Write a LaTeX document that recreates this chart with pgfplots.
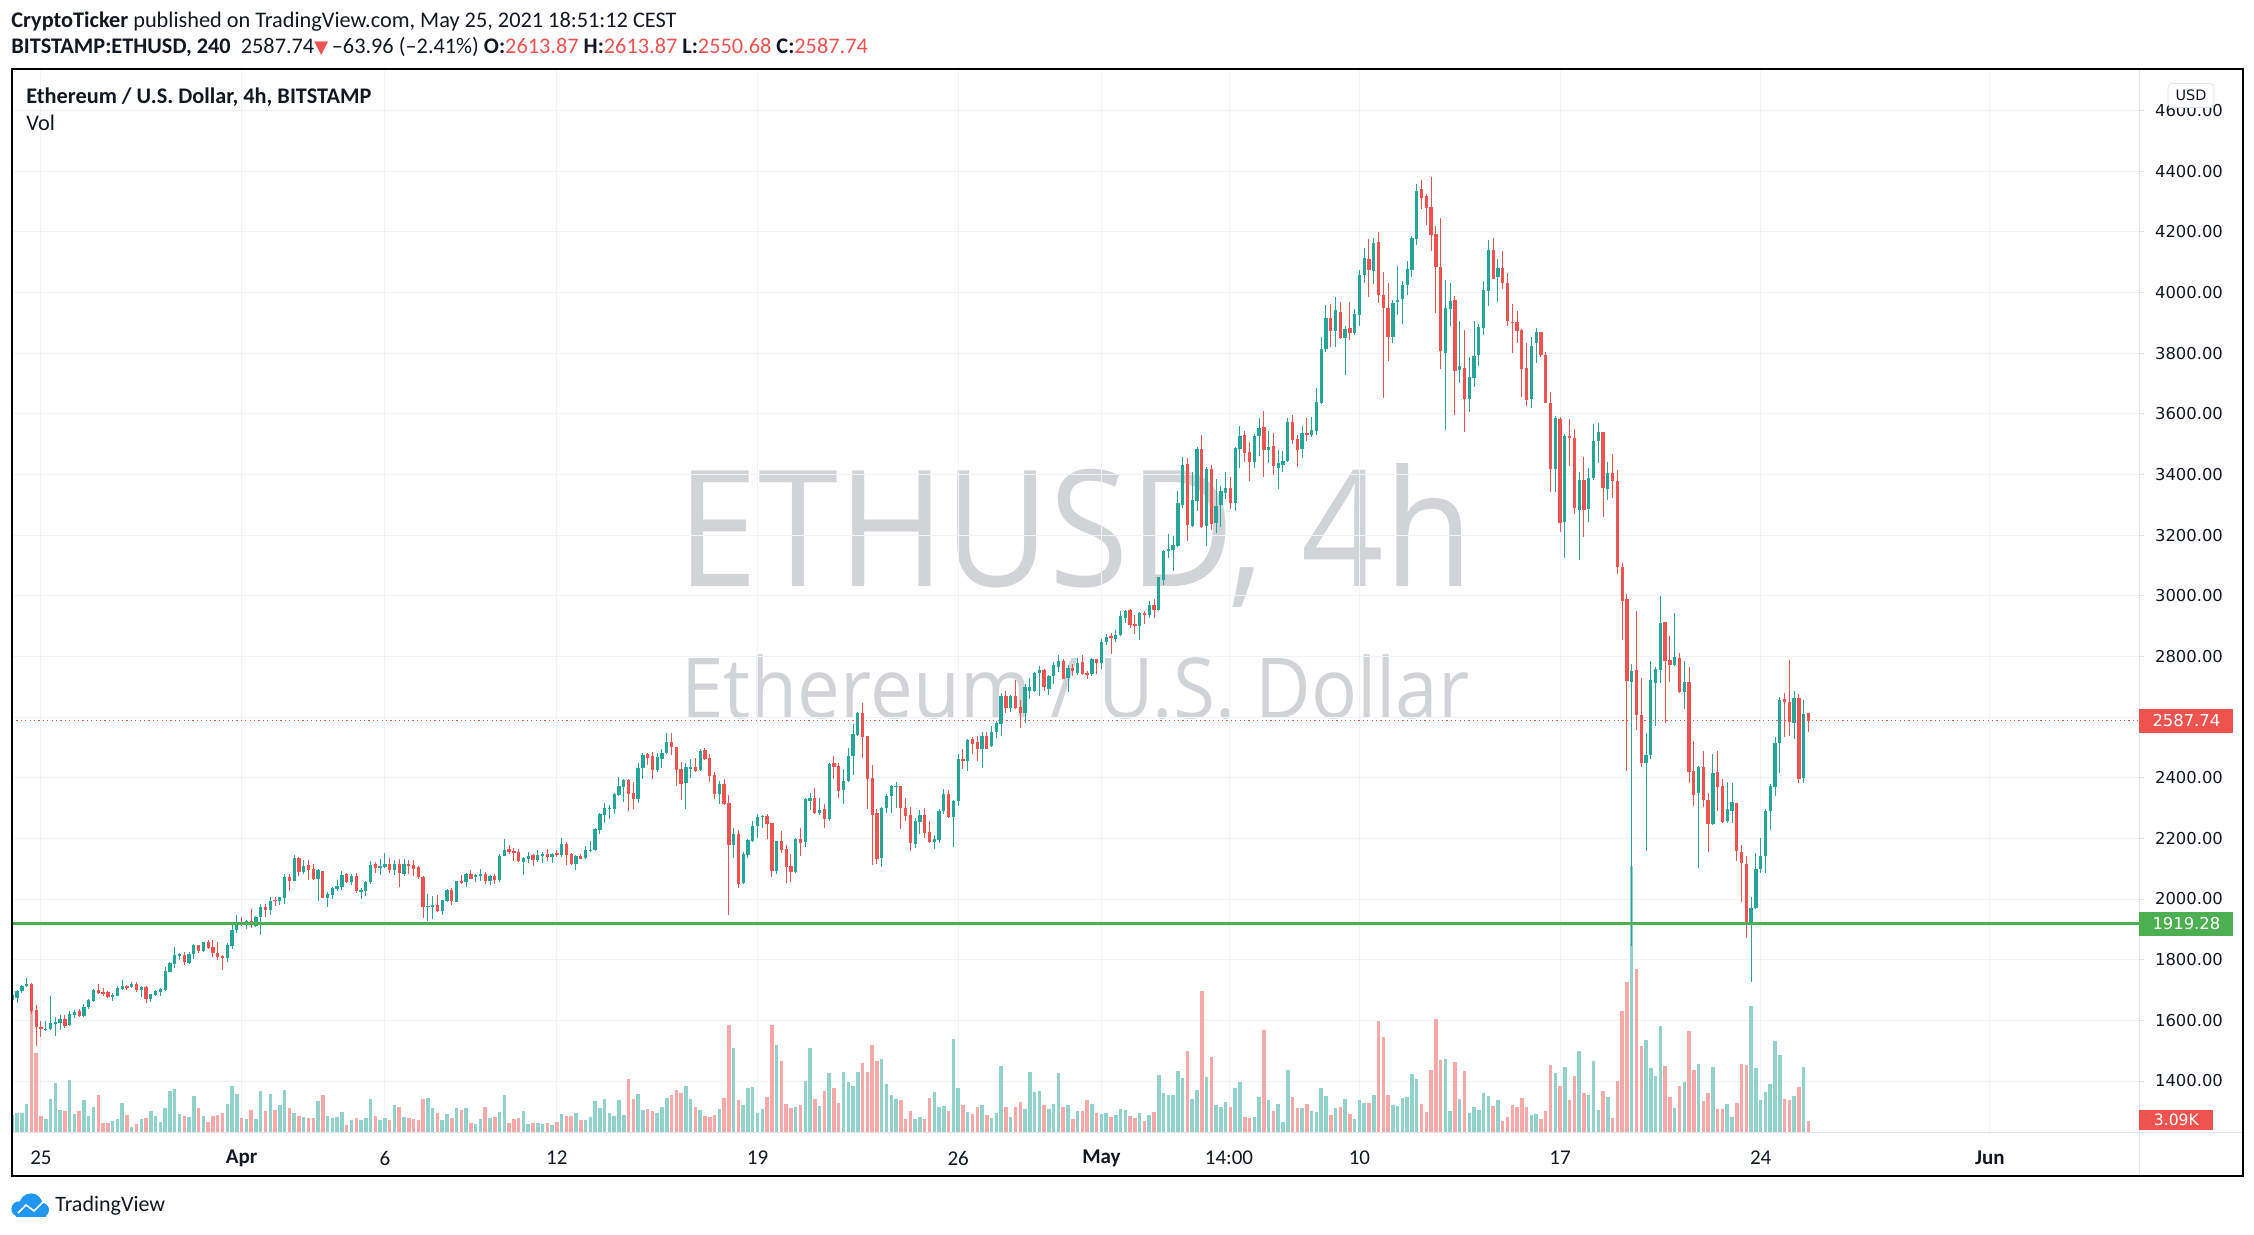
\documentclass[border=0pt]{standalone}
\usepackage{pgfplots}
\pgfplotsset{compat=1.18}
\usepackage{pgfplotstable}
\usepackage{graphicx}
\usepackage{fontspec}
\setmainfont{Carlito}
\newfontfamily\pricefont{DejaVu Sans}
\newfontfamily\wmfont{Open Sans}

\definecolor{up}{HTML}{26A69A}
\definecolor{down}{HTML}{EF5350}
\definecolor{upvol}{HTML}{92D2CC}
\definecolor{downvol}{HTML}{F7A9A7}
\definecolor{gridc}{HTML}{F0F3FA}
\definecolor{txt}{HTML}{131722}
\definecolor{wm}{RGB}{210,211,215}
\definecolor{sep}{HTML}{E0E3EB}
\definecolor{lvl}{HTML}{4CAF50}
\definecolor{tvblue}{HTML}{2196F3}

% 4h candles, i = candle number from Mar 24 00:00; v = volume (bar height units)
\pgfplotstableread{
i o h l c v
0 1666 1688 1646 1683 15
1 1675 1700 1658 1697 17
2 1696 1718 1690 1713 17
3 1713 1740 1710 1719 26
4 1721 1724 1620 1631 120
5 1634 1650 1515 1578 77
6 1578 1598 1545 1573 14
7 1569 1598 1565 1573 11
8 1573 1680 1568 1591 31
9 1589 1611 1550 1595 47
10 1591 1617 1569 1604 20
11 1604 1616 1576 1580 19
12 1585 1631 1582 1621 50
13 1619 1634 1608 1626 16
14 1631 1639 1611 1615 19
15 1613 1653 1611 1644 30
16 1643 1670 1637 1667 14
17 1665 1702 1662 1700 23
18 1700 1720 1688 1690 35
19 1693 1706 1681 1687 7
20 1693 1698 1674 1677 7
21 1677 1691 1665 1685 9
22 1681 1712 1679 1707 11
23 1702 1732 1699 1713 27
24 1713 1717 1700 1707 15
25 1710 1725 1707 1721 3
26 1720 1726 1695 1701 6
27 1701 1712 1677 1710 11
28 1710 1712 1657 1672 12
29 1672 1688 1662 1686 19
30 1685 1699 1680 1697 14
31 1695 1708 1681 1703 8
32 1700 1776 1698 1763 22
33 1761 1792 1759 1790 39
34 1787 1842 1774 1815 41
35 1813 1823 1800 1820 16
36 1815 1824 1784 1792 14
37 1788 1824 1786 1820 13
38 1820 1853 1802 1848 34
39 1848 1850 1823 1829 22
40 1828 1859 1824 1858 14
41 1858 1864 1835 1840 8
42 1842 1864 1810 1822 14
43 1823 1858 1800 1810 15
44 1813 1817 1767 1807 17
45 1807 1854 1793 1848 26
46 1846 1915 1836 1898 44
47 1898 1946 1888 1917 36
48 1924 1942 1912 1915 12
49 1919 1930 1902 1926 11
50 1928 1967 1906 1913 20
51 1910 1945 1908 1941 11
52 1941 1982 1883 1974 39
53 1975 1984 1942 1965 19
54 1964 2008 1948 1993 36
55 1995 2007 1978 1992 20
56 1993 2008 1981 2007 25
57 2003 2081 1985 2072 40
58 2072 2081 2028 2059 22
59 2061 2144 2058 2134 17
60 2134 2137 2077 2089 14
61 2089 2128 2084 2109 13
62 2113 2128 2064 2097 12
63 2099 2117 2062 2067 12
64 2067 2099 1995 2097 29
65 2092 2094 2002 2004 35
66 2004 2023 1974 2018 14
67 2013 2038 2000 2036 12
68 2033 2063 2026 2042 13
69 2040 2092 2031 2079 18
70 2082 2085 2053 2055 5
71 2056 2084 2047 2075 10
72 2076 2086 2020 2026 12
73 2024 2037 2000 2031 10
74 2026 2058 2011 2056 12
75 2056 2125 2051 2112 31
76 2117 2121 2086 2103 14
77 2103 2132 2080 2109 10
78 2106 2152 2101 2117 12
79 2115 2135 2086 2097 10
80 2097 2128 2080 2115 25
81 2114 2131 2040 2086 23
82 2084 2132 2075 2115 13
83 2117 2130 2081 2110 12
84 2112 2129 2075 2098 11
85 2106 2109 2067 2073 10
86 2073 2075 1937 1974 31
87 1975 2017 1929 1976 32
88 1975 2010 1933 1979 22
89 1980 2013 1958 1959 17
90 1960 1998 1948 1996 10
91 1993 2033 1989 2031 16
92 2030 2035 1981 1993 12
93 1991 2060 1990 2059 22
94 2059 2079 2051 2053 20
95 2056 2086 2040 2082 22
96 2082 2096 2066 2067 7
97 2074 2082 2057 2079 6
98 2076 2099 2059 2082 11
99 2082 2088 2051 2059 23
100 2059 2080 2046 2076 12
101 2076 2084 2051 2064 13
102 2064 2147 2056 2142 18
103 2142 2198 2141 2162 35
104 2165 2178 2147 2155 7
105 2158 2169 2125 2152 11
106 2155 2164 2123 2125 12
107 2122 2139 2079 2136 19
108 2132 2155 2119 2142 6
109 2145 2147 2109 2128 7
110 2128 2162 2122 2145 7
111 2143 2155 2119 2150 6
112 2150 2165 2125 2139 7
113 2139 2152 2120 2150 5
114 2152 2160 2139 2145 8
115 2145 2201 2140 2181 16
116 2181 2187 2112 2145 14
117 2148 2151 2113 2115 14
118 2117 2146 2097 2142 17
119 2142 2147 2131 2133 10
120 2135 2175 2132 2162 10
121 2159 2191 2154 2162 13
122 2162 2234 2158 2231 29
123 2228 2284 2215 2280 22
124 2276 2315 2252 2299 31
125 2296 2310 2264 2301 17
126 2297 2348 2280 2346 14
127 2343 2401 2340 2371 30
128 2370 2397 2321 2392 15
129 2392 2397 2291 2346 51
130 2348 2386 2297 2331 31
131 2331 2447 2318 2431 36
132 2431 2480 2396 2475 20
133 2478 2482 2442 2466 21
134 2471 2485 2397 2425 19
135 2425 2482 2420 2467 17
136 2463 2493 2433 2482 23
137 2480 2546 2478 2518 32
138 2518 2546 2475 2500 35
139 2500 2502 2373 2425 40
140 2428 2452 2326 2379 37
141 2384 2447 2298 2434 44
142 2428 2460 2398 2434 31
143 2434 2464 2419 2422 23
144 2425 2495 2422 2488 20
145 2490 2497 2458 2462 14
146 2464 2478 2387 2406 13
147 2408 2419 2329 2346 15
148 2345 2389 2313 2379 21
149 2379 2396 2310 2312 32
150 2315 2342 1947 2178 105
151 2178 2234 2136 2214 82
152 2214 2228 2036 2049 30
153 2052 2156 2048 2148 25
154 2145 2197 2136 2195 42
155 2191 2256 2188 2241 43
156 2241 2280 2201 2269 17
157 2269 2276 2234 2270 21
158 2274 2280 2198 2247 33
159 2249 2252 2074 2092 105
160 2092 2192 2084 2190 85
161 2190 2224 2152 2163 69
162 2164 2178 2054 2107 26
163 2109 2149 2057 2090 22
164 2090 2202 2087 2198 23
165 2198 2234 2143 2185 25
166 2189 2332 2173 2330 49
167 2324 2351 2293 2334 82
168 2334 2366 2280 2284 31
169 2284 2333 2276 2293 24
170 2297 2312 2235 2264 39
171 2264 2449 2258 2445 57
172 2448 2471 2396 2436 42
173 2439 2449 2334 2357 27
174 2359 2428 2313 2390 58
175 2388 2499 2386 2471 48
176 2471 2577 2409 2544 44
177 2541 2616 2538 2613 58
178 2613 2645 2465 2535 67
179 2536 2537 2297 2396 58
180 2399 2441 2112 2277 85
181 2284 2296 2116 2132 69
182 2135 2302 2104 2300 71
183 2300 2345 2284 2340 46
184 2340 2377 2284 2372 35
185 2369 2385 2299 2373 31
186 2372 2373 2230 2300 30
187 2301 2333 2257 2274 11
188 2276 2302 2157 2184 19
189 2180 2267 2168 2257 11
190 2254 2294 2214 2276 13
191 2276 2299 2202 2218 11
192 2220 2257 2184 2188 32
193 2188 2210 2165 2198 38
194 2196 2296 2186 2289 23
195 2289 2362 2281 2345 24
196 2345 2360 2267 2269 19
197 2269 2328 2171 2324 91
198 2324 2477 2306 2461 42
199 2461 2493 2428 2456 25
200 2455 2528 2422 2524 18
201 2528 2533 2477 2511 16
202 2517 2537 2455 2495 23
203 2493 2550 2431 2538 25
204 2538 2550 2493 2495 15
205 2505 2569 2501 2550 12
206 2550 2587 2530 2581 17
207 2577 2679 2538 2670 64
208 2670 2685 2612 2630 23
209 2630 2673 2615 2670 13
210 2670 2722 2628 2630 23
211 2632 2657 2563 2614 28
212 2614 2710 2581 2699 21
213 2685 2729 2661 2700 58
214 2685 2749 2681 2745 38
215 2744 2768 2670 2755 39
216 2755 2758 2687 2700 25
217 2694 2738 2673 2735 21
218 2734 2780 2709 2771 26
219 2766 2805 2749 2785 57
220 2785 2791 2724 2727 23
221 2730 2771 2683 2761 25
222 2761 2776 2734 2751 11
223 2746 2794 2740 2777 19
224 2780 2804 2739 2743 19
225 2745 2751 2727 2739 30
226 2743 2794 2736 2791 26
227 2791 2792 2743 2777 17
228 2777 2856 2758 2849 16
229 2847 2875 2837 2864 17
230 2866 2876 2807 2859 13
231 2856 2887 2847 2871 15
232 2869 2948 2866 2932 21
233 2927 2954 2910 2950 20
234 2952 2957 2895 2903 14
235 2908 2936 2875 2899 12
236 2899 2947 2855 2942 17
237 2942 2948 2908 2935 9
238 2935 2984 2927 2969 15
239 2969 2988 2927 2954 18
240 2954 3062 2948 3061 55
241 3053 3152 3036 3146 37
242 3148 3203 3124 3154 35
243 3152 3196 3080 3168 35
244 3165 3344 3162 3306 59
245 3300 3457 3289 3432 52
246 3434 3454 3181 3234 79
247 3229 3408 3225 3317 31
248 3313 3489 3278 3485 40
249 3485 3531 3223 3225 139
250 3231 3423 3165 3418 53
251 3418 3432 3218 3237 73
252 3240 3385 3207 3295 25
253 3300 3361 3225 3344 23
254 3339 3408 3320 3355 28
255 3355 3391 3287 3306 23
256 3306 3491 3280 3487 42
257 3485 3561 3421 3528 48
258 3530 3542 3441 3470 13
259 3474 3507 3379 3441 12
260 3441 3533 3421 3528 13
261 3528 3586 3462 3553 33
262 3557 3608 3391 3481 100
263 3481 3542 3437 3491 30
264 3492 3536 3399 3426 19
265 3421 3480 3353 3437 26
266 3432 3478 3408 3445 8
267 3445 3586 3442 3572 60
268 3572 3595 3500 3514 33
269 3517 3531 3425 3481 22
270 3484 3558 3454 3535 22
271 3535 3586 3509 3531 26
272 3531 3588 3522 3546 19
273 3544 3685 3531 3637 18
274 3635 3853 3633 3813 42
275 3813 3959 3802 3915 34
276 3915 3962 3820 3872 15
277 3872 3984 3820 3941 22
278 3937 3968 3847 3850 23
279 3850 3888 3729 3879 31
280 3883 3968 3843 3866 16
281 3866 3945 3858 3929 11
282 3926 4074 3890 4056 30
283 4058 4148 4031 4113 27
284 4110 4177 3986 4074 27
285 4072 4179 4029 4163 35
286 4166 4199 3965 3990 109
287 3992 4067 3652 3948 93
288 3948 4031 3775 3853 35
289 3853 3974 3833 3965 25
290 3968 4088 3926 3975 24
291 3979 4036 3897 4025 32
292 4025 4104 3990 4077 33
293 4075 4187 4052 4179 56
294 4177 4357 4155 4333 51
295 4341 4370 4276 4311 26
296 4319 4325 4223 4278 18
297 4281 4380 4137 4190 60
298 4192 4218 3932 4085 111
299 4085 4244 3747 3807 70
300 3801 4041 3546 3948 71
301 3946 4030 3890 3972 19
302 3975 3988 3596 3742 68
303 3744 3906 3702 3757 31
304 3750 3877 3541 3647 59
305 3650 3788 3607 3720 17
306 3717 3906 3689 3790 23
307 3794 3896 3758 3885 20
308 3884 4037 3859 4008 37
309 4006 4173 3956 4140 34
310 4140 4179 4043 4045 24
311 4052 4110 3969 4080 30
312 4080 4136 4012 4030 9
313 4030 4065 3890 3907 13
314 3904 3961 3799 3900 25
315 3904 3939 3832 3874 23
316 3876 3878 3654 3746 32
317 3750 3834 3626 3645 23
318 3648 3854 3620 3823 15
319 3832 3884 3768 3869 16
320 3869 3871 3786 3794 11
321 3794 3802 3634 3636 19
322 3636 3673 3341 3417 65
323 3417 3593 3341 3587 57
324 3582 3590 3211 3241 44
325 3244 3533 3123 3526 63
326 3526 3581 3429 3519 30
327 3519 3550 3268 3288 54
328 3283 3407 3118 3381 79
329 3381 3458 3192 3283 37
330 3285 3420 3242 3387 35
331 3387 3565 3383 3510 69
332 3510 3568 3436 3539 20
333 3539 3541 3261 3354 39
334 3351 3440 3315 3403 33
335 3403 3467 3321 3379 12
336 3378 3414 3071 3093 49
337 3093 3108 2854 2984 119
338 2988 3006 2423 2719 148
339 2716 2775 1846 2752 264
340 2755 2949 2556 2607 161
341 2607 2728 2436 2447 84
342 2447 2546 2159 2475 90
343 2475 2785 2460 2723 62
344 2713 2766 2571 2758 54
345 2755 2999 2713 2909 104
346 2912 2914 2581 2786 64
347 2788 2867 2714 2771 33
348 2771 2943 2768 2799 22
349 2796 2810 2680 2684 44
350 2684 2785 2625 2714 48
351 2714 2765 2381 2420 99
352 2422 2521 2308 2343 60
353 2351 2438 2101 2434 66
354 2434 2488 2304 2326 29
355 2326 2351 2156 2247 37
356 2247 2478 2245 2417 63
357 2419 2488 2291 2370 21
358 2373 2395 2252 2255 21
359 2258 2386 2252 2297 26
360 2291 2384 2252 2320 13
361 2315 2318 2126 2159 27
362 2154 2178 1991 2118 66
363 2115 2142 1870 1925 65
364 1925 2006 1728 1969 124
365 1969 2151 1967 2099 62
366 2099 2200 2086 2142 30
367 2142 2296 2086 2291 38
368 2291 2379 2227 2373 46
369 2370 2535 2340 2515 89
370 2513 2667 2417 2656 75
371 2658 2678 2533 2651 31
372 2648 2788 2538 2585 30
373 2581 2686 2526 2662 34
374 2664 2676 2384 2395 43
375 2398 2656 2384 2610 63
376 2613.87 2613.87 2550.68 2587.74 9
}\eth

\begin{document}
\begin{tikzpicture}
\path[use as bounding box] (0,0) rectangle (1127pt,617.5pt);

% watermark
\node[anchor=base, inner sep=0pt, text=wm] at (537.75pt,324.25pt)
  {\resizebox{397.5pt}{\height}{\wmfont\fontsize{81}{90}\selectfont ETHUSD, 4h}};
\node[anchor=base, inner sep=0pt, text=wm] at (537.75pt,258.1pt)
  {\resizebox{394pt}{\height}{\wmfont\fontsize{42}{48}\selectfont Ethereum / U.S. Dollar}};

\begin{axis}[
  at={(5.75pt,51pt)}, anchor=south west,
  width=1063.75pt, height=532pt, scale only axis,
  xmin=-0.17, xmax=445.2, ymin=1228.6, ymax=4736.6,
  axis line style={draw=none},
  grid=major, grid style={gridc, line width=0.5pt},
  xtick={6,48,78,114,156,198,228,254.7,282,324,366,414},
  xticklabels={25,\textbf{Apr},6,12,19,26,\textbf{May},14:00,10,17,24,\textbf{Jun}},
  xticklabel style={font=\fontsize{10.5}{12}\selectfont, text=txt, anchor=center, yshift=-10pt},
  x tick style={draw=none},
  ytick={1400,1600,...,4600},
  yticklabel pos=right, ytick pos=right,
  tick align=outside, major tick length=2.5pt,
  y tick style={sep, line width=0.5pt},
  yticklabel style={font=\pricefont\fontsize{8.2}{10}\selectfont, text=txt, anchor=west, xshift=2pt,
    /pgf/number format/fixed, /pgf/number format/fixed zerofill,
    /pgf/number format/precision=2, /pgf/number format/1000 sep={},
    /pgf/number format/assume math mode=true},
  restrict y to domain=0:10000,
]
% volume (bars rising from the bottom edge)
\addplot[forget plot, upvol, line width=1.75pt, quiver={u=0, v={3.297*\thisrow{v}+12}}]
  table[x=i, y expr={\thisrow{c}>=\thisrow{o} ? 1226.4 : -5000}] {\eth};
\addplot[forget plot, downvol, line width=1.75pt, quiver={u=0, v={3.297*\thisrow{v}+12}}]
  table[x=i, y expr={\thisrow{c}<\thisrow{o} ? 1226.4 : -5000}] {\eth};
% wicks
\addplot[forget plot, up, line width=0.5pt, quiver={u=0, v={\thisrow{h}-\thisrow{l}}}]
  table[x=i, y expr={\thisrow{c}>=\thisrow{o} ? \thisrow{l} : -5000}] {\eth};
\addplot[forget plot, down, line width=0.5pt, quiver={u=0, v={\thisrow{h}-\thisrow{l}}}]
  table[x=i, y expr={\thisrow{c}<\thisrow{o} ? \thisrow{l} : -5000}] {\eth};
% bodies
\addplot[forget plot, up, line width=1.65pt, quiver={u=0, v={max(\thisrow{c}-\thisrow{o},3.3)}}]
  table[x=i, y expr={\thisrow{c}>=\thisrow{o} ? \thisrow{o} : -5000}] {\eth};
\addplot[forget plot, down, line width=1.65pt, quiver={u=0, v={max(\thisrow{o}-\thisrow{c},3.3)}}]
  table[x=i, y expr={\thisrow{c}<\thisrow{o} ? \thisrow{c} : -5000}] {\eth};
% level line and last price line
\addplot[forget plot, lvl, line width=1.35pt] coordinates {(-1,1919.28) (446,1919.28)};
\addplot[forget plot, down, line width=0.5pt, dash pattern=on 0.6pt off 1.6pt] coordinates {(-1,2587.74) (446,2587.74)};
\coordinate (lastp) at (axis cs:445.2,2587.74);
\coordinate (lvlp) at (axis cs:445.2,1919.28);
\coordinate (volp) at (axis cs:445.2,1271.4);
\end{axis}

% frame and separators
\draw[sep, line width=0.5pt] (1069.5pt,29.5pt) -- (1069.5pt,583pt);
\draw[sep, line width=0.5pt] (5.75pt,51pt) -- (1121.25pt,51pt);
\draw[black, line width=1pt] (5.75pt,29.5pt) rectangle (1121.25pt,583pt);

% price-axis tags
\node[anchor=west, fill=down, text=white, font=\pricefont\fontsize{8.2}{10}\selectfont,
  inner sep=0pt, minimum width=47pt, minimum height=12pt] at (lastp) {2587.74};
\node[anchor=west, fill=lvl, text=white, font=\pricefont\fontsize{8.2}{10}\selectfont,
  inner sep=0pt, minimum width=47pt, minimum height=12pt] at (lvlp) {1919.28};
\node[anchor=west, fill=down, text=white, font=\pricefont\fontsize{7.8}{9}\selectfont,
  inner sep=0pt, minimum width=37pt, minimum height=10pt] at (volp) {3.09K};
\node[fill=white, draw=sep, rounded corners=2pt, text=txt, font=\pricefont\fontsize{7.2}{8}\selectfont,
  inner sep=0pt, minimum width=23pt, minimum height=12pt] at (1095.5pt,569.75pt) {USD};

% header
\node[anchor=base west, inner sep=0pt, text=txt, font=\fontsize{11.15}{13}\selectfont] at (5.5pt,603.75pt)
  {\textbf{CryptoTicker} published on TradingView.com, May 25, 2021 18:51:12 CEST};
\node[anchor=base west, inner sep=0pt, text=txt, font=\fontsize{11.15}{13}\selectfont] at (5.5pt,590.75pt)
  {\textbf{BITSTAMP:ETHUSD, 240}\ \ 2587.74{\color{down}\pricefont\fontsize{9}{10}\selectfont ▼}\,–63.96 (–2.41\%)
   \textbf{O:}{\color{down}2613.87} \textbf{H:}{\color{down}2613.87} \textbf{L:}{\color{down}2550.68} \textbf{C:}{\color{down}2587.74}};
\node[anchor=base west, inner sep=0pt, text=txt, font=\fontsize{11.15}{13}\selectfont] at (13pt,565.5pt)
  {\textbf{Ethereum / U.S. Dollar, 4h, BITSTAMP}};
\node[anchor=base west, inner sep=0pt, text=txt, font=\fontsize{11.15}{13}\selectfont] at (13pt,552pt) {Vol};

% footer logo
\fill[tvblue] (8pt,9pt) rectangle (23pt,14pt);
\fill[tvblue] (9.5pt,13pt) circle (3.8pt);
\fill[tvblue] (15.5pt,15pt) circle (5.8pt);
\fill[tvblue] (21pt,12.5pt) circle (3.5pt);
\draw[white, line width=0.8pt] (9pt,11pt) -- (13pt,15pt) -- (17pt,12pt) -- (22pt,17pt);
\node[anchor=base west, inner sep=0pt, text=txt, font=\fontsize{11}{13}\selectfont] at (27.5pt,11.5pt) {TradingView};
\end{tikzpicture}
\end{document}
